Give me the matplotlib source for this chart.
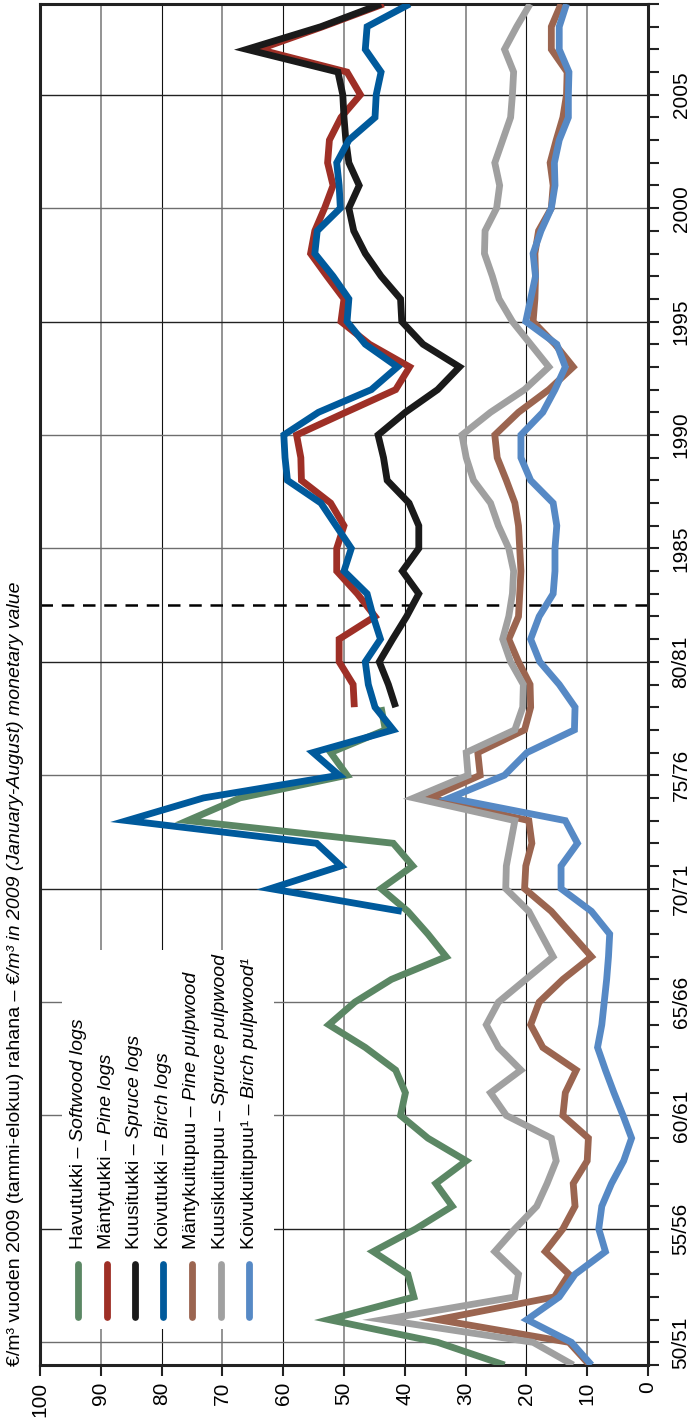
import matplotlib
matplotlib.use("Agg")
from matplotlib import pyplot as plt
from matplotlib.patches import Rectangle

plt.rcParams['font.family'] = ['Liberation Sans', 'DejaVu Sans']

# values, EUR/m3 in 2009 money
years = list(range(1949, 2010))
softwood_years = list(range(1949, 1979))
log_years = list(range(1978, 2010))
birch_log_years = list(range(1969, 2010))

softwood_logs = [23.6, 34.6, 52.5, 38.5, 39.5, 45.2, 38.2, 32.2, 34.9, 29.9,
                 36.2, 40.7, 39.9, 41.5, 46.5, 52.5, 48.2, 42.2, 33.2, 36.2,
                 39.5, 43.9, 38.7, 41.9, 75.7, 67.1, 49.5, 52.2, 43.2, 43.9]

pine_logs = [48.3, 48.5, 50.8, 50.8, 44.9, 47.8, 51.2, 51.2, 50.0, 52.2,
             57.0, 57.1, 57.8, 49.7, 41.5, 39.2, 45.8, 50.5, 50.0, 52.8,
             55.5, 54.8, 53.2, 51.8, 52.7, 52.4, 50.5, 47.3, 49.5, 64.0,
             53.5, 43.5]

spruce_logs = [41.5, 42.7, 44.2, 42.0, 39.7, 37.7, 40.4, 37.7, 37.7, 39.3,
               42.9, 43.5, 44.4, 39.9, 34.6, 31.0, 37.0, 40.5, 40.7, 43.9,
               46.5, 48.4, 49.2, 47.5, 49.2, 49.7, 50.0, 50.2, 51.0, 66.0,
               53.8, 43.9]

birch_logs = [40.5, 62.1, 50.5, 54.5, 85.7, 73.1, 50.8, 55.1, 41.9, 44.9,
              46.0, 46.5, 44.0, 45.2, 46.2, 50.0, 48.8, 51.3, 53.8, 59.3,
              59.7, 59.9, 54.2, 45.5, 41.2, 46.5, 49.5, 49.2, 51.8, 54.8,
              54.4, 50.6, 50.8, 51.2, 49.2, 44.9, 44.7, 43.9, 46.5, 46.2,
              39.2]

pine_pulp = [9.6, 13.0, 34.6, 15.4, 13.0, 16.9, 14.0, 12.0, 12.3, 10.0,
             9.8, 14.0, 13.6, 11.8, 17.3, 19.3, 17.9, 14.0, 9.3, 12.6,
             15.9, 20.3, 20.1, 19.1, 19.6, 35.9, 27.6, 28.0, 20.3, 19.3,
             19.4, 21.3, 22.9, 21.3, 21.1, 20.9, 21.1, 21.3, 21.9, 23.3,
             24.8, 25.2, 21.3, 16.3, 12.3, 15.3, 18.9, 18.6, 18.5, 18.6,
             18.0, 15.9, 15.6, 16.1, 15.1, 14.0, 13.4, 13.3, 15.9, 15.9, 14.3]

spruce_pulp = [12.3, 18.9, 43.5, 21.9, 21.3, 25.2, 21.9, 18.3, 16.6, 15.1,
               15.9, 23.3, 25.9, 20.9, 24.6, 26.6, 24.6, 20.1, 15.6, 17.6,
               19.6, 23.4, 23.3, 22.6, 21.9, 38.5, 29.6, 29.9, 21.9, 20.6,
               20.5, 22.6, 23.9, 22.9, 22.3, 22.1, 22.9, 24.6, 25.9, 28.7,
               29.9, 30.6, 25.9, 20.3, 16.3, 19.3, 22.3, 24.5, 25.6, 26.9,
               26.8, 24.9, 24.4, 25.2, 23.9, 22.6, 22.3, 22.1, 23.6, 21.6, 19.4]

birch_pulp = [9.3, 12.6, 19.9, 14.6, 12.0, 7.0, 8.1, 7.6, 6.0, 4.0,
              2.7, 4.1, 5.6, 7.0, 8.3, 7.6, 7.2, 6.8, 6.5, 6.3,
              9.3, 14.3, 14.3, 11.6, 13.6, 32.6, 23.6, 19.9, 12.1, 12.0,
              14.6, 17.8, 19.3, 17.9, 15.6, 15.3, 15.3, 15.0, 15.6, 19.3,
              20.9, 20.9, 17.3, 15.3, 13.6, 15.0, 20.1, 19.3, 18.5, 18.9,
              17.6, 15.9, 15.3, 15.4, 14.6, 13.1, 13.1, 13.0, 14.6, 14.6, 13.4]

fi_names = ["Havutukki – ", "Mäntytukki – ", "Kuusitukki – ", "Koivutukki – ",
            "Mäntykuitupuu – ", "Kuusikuitupuu – ", "Koivukuitupuu¹ – "]
en_names = ["Softwood logs", "Pine logs", "Spruce logs", "Birch logs",
            "Pine pulpwood", "Spruce pulpwood", "Birch pulpwood¹"]
colors = ["#5b8764", "#9e2f26", "#1a1a1a", "#005a9c", "#9b6550", "#a0a0a0", "#5689c5"]

tick_years = [1950, 1955, 1960, 1965, 1970, 1975, 1980, 1985, 1990, 1995, 2000, 2005]
tick_labels = ["50/51", "55/56", "60/61", "65/66", "70/71", "75/76", "80/81",
               "1985", "1990", "1995", "2000", "2005"]
dashed_year = 1982.5

W, H = 689, 1423
fig = plt.figure(figsize=(W / 100, H / 100), dpi=100)
ax = fig.add_axes([40 / W, 1 - 1365 / H, 608 / W, 1361 / H])

series = [(softwood_years, softwood_logs), (log_years, pine_logs), (log_years, spruce_logs),
          (birch_log_years, birch_logs), (years, pine_pulp), (years, spruce_pulp),
          (years, birch_pulp)]
for i, (yr, vals) in enumerate(series):
    ax.plot(vals, yr, color=colors[i], lw=4.9, solid_joinstyle='miter',
            solid_capstyle='butt', zorder=3 + i)

ax.set_xlim(100, 0)
ax.set_ylim(1949, 2009)

# grid
for v in range(10, 100, 10):
    if v % 20 == 0:
        ax.axvline(v, color='#111111', lw=0.8, zorder=0.5)
    else:
        ax.axvline(v, color='#8a8a8a', lw=1.3, zorder=0.5)
dark_rows = [1955, 1970, 1980, 1995, 2005]
for yv in tick_years:
    c = '#222222' if yv in dark_rows else '#6e6e6e'
    ax.axhline(yv, color=c, lw=1.0, zorder=0.5)
ax.axhline(dashed_year, color='black', lw=1.8, ls=(0, (5.0, 3.5)), zorder=2)

# legend box
ax.add_patch(Rectangle((61.5, 1950.6), 34.9, 16.7, facecolor='white',
                       edgecolor='none', zorder=1))

ax.set_xticks(range(0, 101, 10))
ax.tick_params(axis='x', direction='out', length=8, width=1.5, labelsize=15,
               labelrotation=90, pad=4, color='#222222')
ax.yaxis.tick_right()
ax.set_yticks(tick_years)
ax.set_yticklabels(tick_labels, rotation=90, va='center')
ax.set_yticks(range(1949, 2010), minor=True)
ax.tick_params(axis='y', which='both', direction='out', length=8, width=1.5,
               labelsize=15, pad=9, color='#222222')

for s in ax.spines.values():
    s.set_linewidth(2.2)
    s.set_color('#222222')

renderer = fig.canvas.get_renderer()


def two_part(x, y, first, second, transform, size=14):
    t1 = fig.text(x, y, first, transform=transform, rotation=90, rotation_mode='anchor',
                  ha='left', va='center', fontsize=size)
    bb = t1.get_window_extent(renderer=renderer)
    x0, _ = transform.transform((x, y))
    x2, y2 = transform.inverted().transform((x0, bb.y1))
    fig.text(x2, y2, second, transform=transform, rotation=90, rotation_mode='anchor',
             ha='left', va='center', fontsize=size, style='italic')


# legend entries
leg_x = [93.7, 89.0, 84.4, 79.7, 75.0, 70.3, 65.6]
for i in range(7):
    ax.plot([leg_x[i], leg_x[i]], [1951.1, 1953.45], color=colors[i], lw=4.9,
            solid_capstyle='round', zorder=10)
    two_part(leg_x[i], 1954.1, fi_names[i], en_names[i], ax.transData)

# axis title on the left
two_part(16 / W, 1 - 1366 / H, "€/m³ vuoden 2009 (tammi-elokuu) rahana – ",
         "€/m³ in 2009 (January-August) monetary value", fig.transFigure)

fig.savefig("out.png", dpi=100)
